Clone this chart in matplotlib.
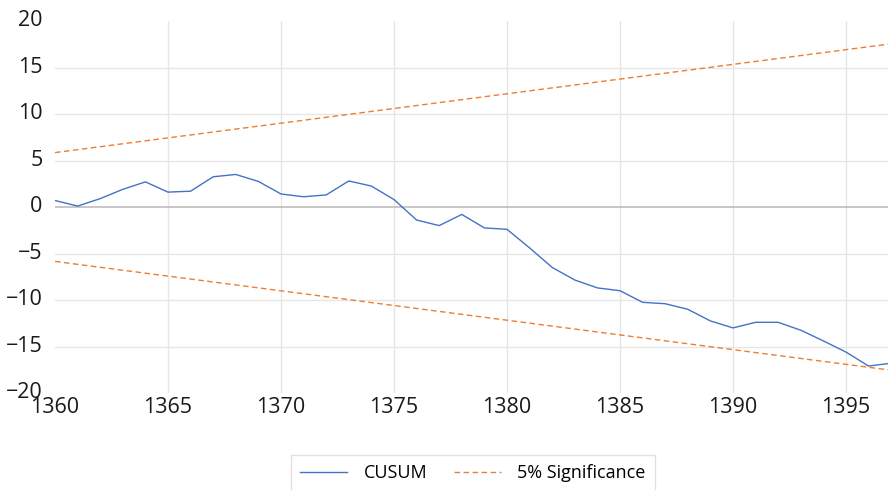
import matplotlib
matplotlib.use("Agg")
import matplotlib.pyplot as plt
import matplotlib.transforms as mtransforms

years = list(range(1360, 1398))
cusum = [0.7, 0.1, 0.9, 1.9, 2.7, 1.6, 1.7, 3.25, 3.5, 2.75,
         1.4, 1.1, 1.3, 2.8, 2.25, 0.8, -1.4, -2.0, -0.8, -2.25,
         -2.4, -4.4, -6.5, -7.85, -8.7, -9.0, -10.25, -10.4, -11.0, -12.25,
         -13.0, -12.4, -12.4, -13.25, -14.4, -15.6, -17.1, -16.8]
sig_years = [1360, 1397]
sig_upper = [5.85, 17.55]
sig_lower = [-5.85, -17.55]

xticks = [1360, 1365, 1370, 1375, 1380, 1385, 1390, 1395]
yticks = [-20, -15, -10, -5, 0, 5, 10, 15, 20]

plt.rcParams['font.family'] = ['Open Sans', 'DejaVu Sans']

fig = plt.figure(figsize=(8.88, 4.90), dpi=100)
ax = fig.add_axes([55/888, 97/490, 833/888, 372/490])

blue = '#4472C4'
orange = '#ED7D31'

for x in xticks[1:]:
    ax.axvline(x, color='#E6E6E6', lw=1.0, zorder=0)
for y in [-15, -10, -5, 5, 10, 15]:
    ax.axhline(y, color='#E6E6E6', lw=1.0, zorder=0)
ax.axhline(0, color='#BDBDBD', lw=1.2, zorder=1)

ax.plot(years, cusum, color=blue, lw=1.0, label='CUSUM', zorder=3)
ax.plot(sig_years, sig_upper, color=orange, lw=1.0, ls=(0, (4, 2.5)), label='5% Significance', zorder=2)
ax.plot(sig_years, sig_lower, color=orange, lw=1.0, ls=(0, (4, 2.5)), zorder=2)

ax.set_xlim(1360, 1360 + 833/22.6)
ax.set_ylim(-20, 20)
ax.set_xticks(xticks)
ax.set_yticks(yticks)
ax.tick_params(axis='both', length=0, labelsize=15.5, colors='#1a1a1a')
ax.tick_params(axis='x', pad=3)
ax.tick_params(axis='y', pad=9)
offset = mtransforms.ScaledTranslation(0, 3/100, fig.dpi_scale_trans)
for lbl in ax.get_yticklabels():
    lbl.set_transform(lbl.get_transform() + offset)
for s in ax.spines.values():
    s.set_visible(False)

leg = fig.legend(loc='center', bbox_to_anchor=(473/888, 1 - 473/490), ncol=2,
                 frameon=True, fancybox=False, edgecolor='#D9D9D9', fontsize=13,
                 handlelength=2.6, handletextpad=0.9, columnspacing=1.5, borderpad=0.5)
leg.get_frame().set_linewidth(1.0)

fig.savefig('out.png', dpi=100)
